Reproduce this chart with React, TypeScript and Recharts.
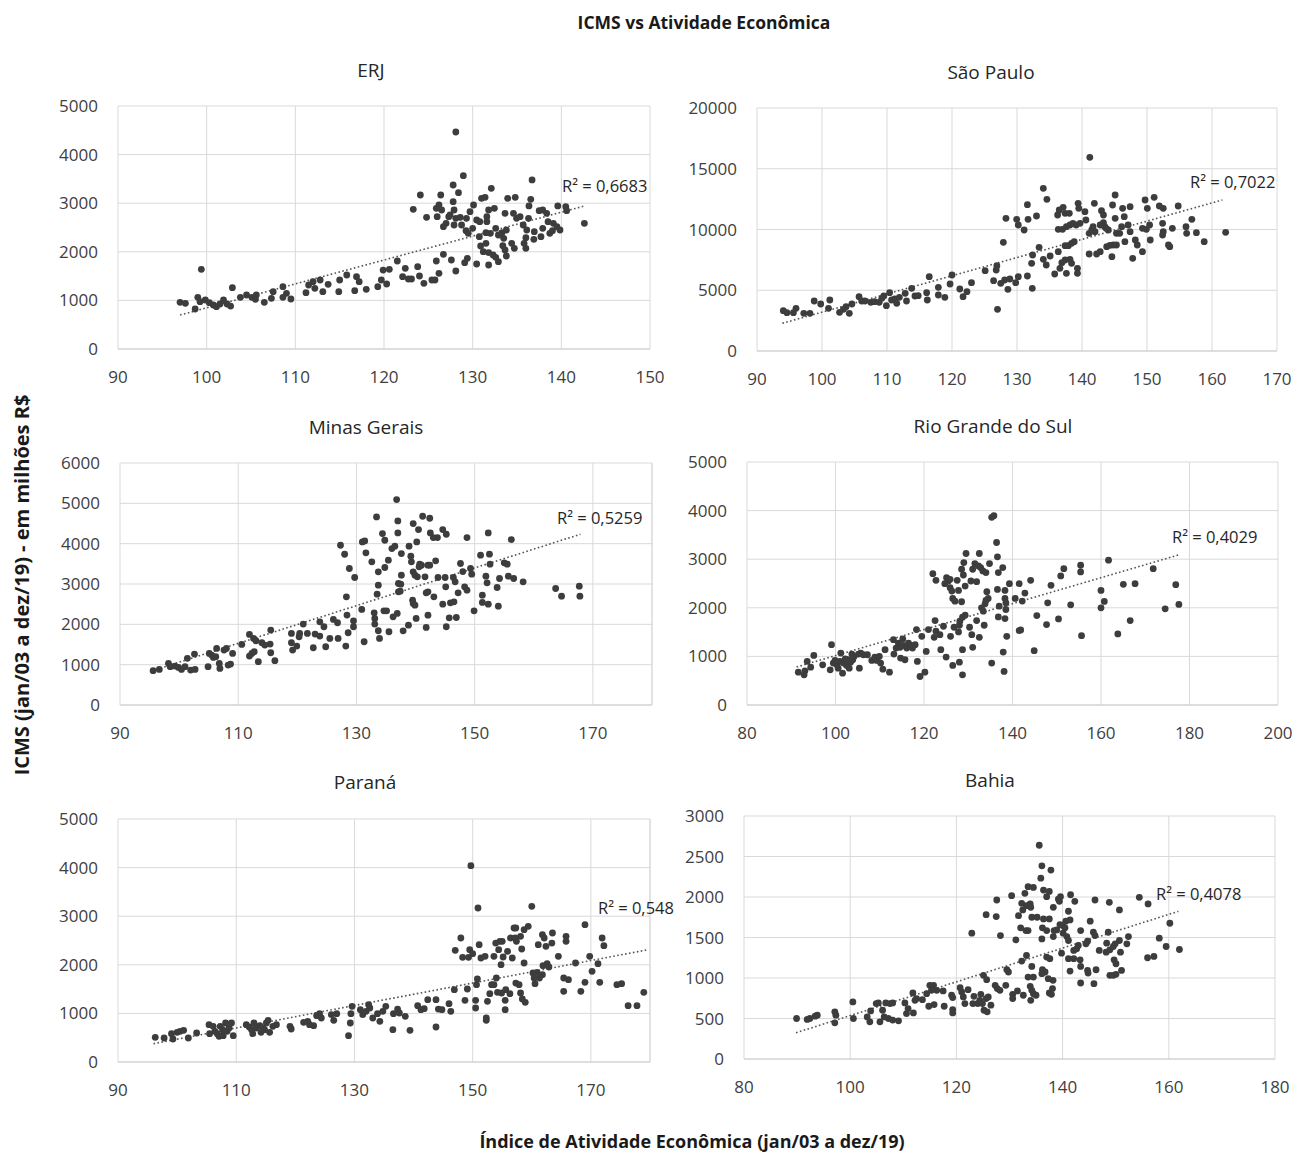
import React from 'react';
import { ScatterChart, Scatter, XAxis, YAxis, CartesianGrid, ReferenceLine } from 'recharts';

type Pt = [number, number];

// ---------------- DATA ----------------
const erjPoints: Pt[] = [
  [97.0,960],[97.6,940],[98.7,823],[99.4,1639],[99.0,1063],[99.25,974],[99.85,1008],[100.3,953],[100.75,905],[101.1,871],
  [101.5,926],[101.9,1008],[102.3,926],[102.7,884],[102.9,1262],[103.8,1063],[104.5,1111],[105.1,1063],[105.5,1022],[105.6,1111],
  [106.5,960],[107.3,1042],[107.5,1180],[108.6,1283],[108.6,1063],[109.0,1145],[109.5,1029],[111.2,1159],[111.5,1317],[112.0,1385],
  [112.2,1248],[112.8,1420],[113.1,1180],[113.7,1331],[114.9,1180],[115.0,1420],[115.8,1523],[116.9,1488],[117.2,1385],[116.7,1200],
  [118.0,1228],[119.3,1283],[119.7,1420],[119.9,1625],[120.3,1337],[120.6,1639],[121.5,1811],
  [122.4,1660],[122.1,1488],[122.75,1440],[123.1,1440],[123.8,1694],[124.0,1502],[124.5,1351],[125.4,1420],[125.75,1420],
  [126.2,1557],[125.9,1811],[126.7,1948],[127.6,1831],[128.1,1605],[129.1,1776],[129.4,1865],[130.45,1749],[131.8,1728],
  [128.1,4465],[128.95,3567],[127.8,3375],[128.4,3217],[124.1,3169],[126.4,3169],[127.8,3032],[123.3,2874],[124.8,2709],[125.9,2894],
  [126.2,2963],[126.5,2860],[126.0,2723],[127.3,2723],[127.45,2757],[127.9,2860],[128.1,2689],[128.6,2709],[126.7,2517],[127.0,2586],
  [127.9,2551],[128.75,2551],[129.3,2689],[129.7,2826],[130.1,2963],[130.45,2654],[130.8,2620],[131.0,3100],[131.4,3121],[132.1,3306],
  [129.25,2435],[129.5,2380],[130.0,2483],[130.75,2311],[131.6,2620],[131.8,2860],[131.6,2723],[132.45,2894],[131.5,2394],[132.0,2380],
  [132.6,2483],[132.9,2346],[133.3,2394],[130.9,2119],[131.5,2174],[131.2,2003],[131.8,1982],[132.3,1934],[132.6,1886],[132.9,1797],
  [133.4,2126],[133.65,2037],[133.8,1914],[133.5,2277],[133.8,2449],[133.65,2792],[133.95,3100],[134.8,3121],[134.4,2174],[134.7,2071],
  [134.6,2792],[134.95,2689],[135.35,2723],[135.7,2551],[135.8,2174],[136.0,2071],[136.0,2291],[136.1,2449],[136.3,2689],[136.35,2943],
  [136.55,3080],[136.7,3478],[136.95,2414],[136.9,2256],[137.5,2847],[137.9,2860],[137.9,2483],[137.7,2311],[138.35,2792],[138.5,2620],
  [138.7,2380],[139.0,2435],[139.1,2586],[139.6,2943],[139.5,2517],[139.85,2449],[140.5,2929],[140.6,2847],[142.6,2586]
];
const erjTrend: Pt[] = [[97.0,700],[142.6,2942]];

const spPoints: Pt[] = [
  [94.05,3322],[94.6,3157],[95.6,3157],[96.0,3513],[97.2,3102],[98.15,3102],[98.8,4117],[99.8,3870],[101.0,3513],[101.2,4199],
  [102.7,3185],[103.3,3431],[103.7,3650],[104.2,3102],[104.6,3870],[105.7,4473],[106.1,4117],[106.6,4117],[107.5,4007],[108.1,4062],
  [108.8,4007],[109.2,4336],[109.5,4528],[109.9,3733],[110.4,4802],[110.7,4199],[111.2,4281],[111.5,3925],[111.9,4418],[112.8,4748],
  [113.0,4117],[113.8,5159],[114.3,4528],[114.8,4555],[116.1,4802],[116.2,4199],[116.5,6119],[117.9,5241],[117.9,4610],[118.9,4418],
  [119.7,5515],[120.0,6256],[121.2,5104],[121.7,4473],[122.3,4885],[123.0,5625],[125.1,6613],[126.4,5790],[126.8,6668],[126.9,7024],
  [127.0,3431],[127.9,8945],[128.3,10919],[127.5,5570],[128.1,5844],[128.6,5076],[128.9,5927],[129.8,5625],[129.95,10837],[130.2,10371],
  [131.1,9959],[131.6,12044],[131.7,10837],[130.2,6119],[131.6,6174],
  [132.4,7902],[132.25,7216],[132.35,5159],[133.0,11112],[133.4,8533],[134.05,13388],[134.6,12483],[134.05,7545],[134.5,7079],[135.1,7820],
  [135.8,6338],[136.35,8176],[136.6,6805],[136.9,7271],[137.4,7490],[137.6,6393],[138.15,7545],[138.4,7216],[139.3,6805],[139.3,6393],
  [136.25,11194],[136.5,11605],[137.1,11825],[137.4,11331],[138.05,11331],[136.35,10014],[137.0,10014],[137.6,10234],[138.15,10371],[138.6,10508],
  [139.1,10371],[139.7,10508],[137.4,8670],[137.9,8670],[138.4,8862],[138.8,9000],[139.4,12154],[139.5,11742],[140.45,11468],[140.6,10782],
  [141.2,15939],[141.9,12154],[141.1,9685],[141.5,9959],[141.7,10234],[141.1,7984],[142.25,7984],[142.8,8176],[143.0,11550],[143.3,11194],
  [142.0,9822],[142.8,10371],[143.3,10563],[143.5,10234],[144.05,9959],[143.8,8587],[144.3,8697],[144.8,8725],[145.3,8725],[144.6,7765],
  [143.7,10097],[144.7,12017],[145.1,12840],[145.1,10919],[145.3,9685],[145.8,9685],[146.1,10234],[146.25,11742],[146.5,11057],[147.4,11880],
  [147.1,10371],[147.4,9822],[146.6,9000],[147.8,7627],[148.2,9137],[148.5,8725],[149.3,8176],[149.3,10097],[149.9,10014],[150.4,10371],
  [149.7,12428],[150.05,11742],[150.5,9137],[151.1,12648],[151.9,11934],[152.5,11742],[152.4,10508],[152.5,9822],[152.4,9548],[153.3,8725],
  [153.5,8587],[153.9,10097],[154.8,11934],[156.0,10234],[156.1,9685],[156.9,10837],[157.6,9740],[158.8,9000],[162.1,9767]
];
const spTrend: Pt[] = [[93.9,2279],[161.6,12428]];

const mgPoints: Pt[] = [
  [95.6,850],[96.65,883],[98.2,1032],[98.5,949],[99.3,966],[99.9,932],[100.4,883],[101.0,949],[101.4,1156],[101.95,867],
  [102.7,883],[102.6,1263],[104.9,949],[105.1,1279],[105.5,1238],[105.8,1180],[106.2,1197],[106.35,1403],[106.8,1032],[106.9,908],
  [107.6,1362],[108.0,1403],[108.3,990],[108.7,1015],[109.05,1279],[110.6,1502],[111.9,1750],[111.9,1213],[112.3,1279],[112.7,1321],
  [112.6,1651],[113.0,1593],[113.4,1073],[114.0,1543],[114.5,1485],[115.4,1510],[115.5,1296],[115.5,1857],[116.2,1098],[119.0,1775],
  [119.0,1543],[119.2,1362],[119.9,1461],[120.3,1692],[120.4,1775],[121.0,2006],[121.7,1775],[122.7,1420],[123.0,1758],[123.8,1709],
  [123.8,2063],[124.5,1940],[124.8,1444],[125.5,1651],[126.1,2121],[126.8,2039],[126.9,1651],[127.3,3961],[128.0,3738],[128.3,2682],
  [128.4,2229],[128.2,1461],[128.6,1791],[128.8,3384],[129.5,1940],[129.7,3161],[129.5,2088],[131.0,4044],[131.4,4069],[131.6,3772],
  [130.9,2369],[131.3,1568],[132.6,3549],[133.0,2286],[133.1,2146],[133.1,2006],[133.4,4663],[133.7,3301],[133.7,2971],[133.5,2748],
  [133.7,1841],[133.9,1651],[134.4,4250],[134.8,4085],[134.8,3409],[134.65,2335],[135.1,2335],[135.4,3590],[135.5,1816],[136.0,3879],
  [136.2,2187],[136.5,3937],[136.8,5092],[137.0,4564],[137.0,4267],[137.1,3012],[137.1,2806],[136.9,2270],
  [137.6,3755],[137.6,3219],[137.5,2996],[137.4,2822],[137.9,1840],[138.8,1980],[138.9,3937],[139.2,3689],[139.3,3549],[139.6,4498],
  [140.2,4044],[140.5,4350],[139.5,2600],[139.6,2517],[139.9,2476],[140.1,2146],[139.6,3301],[139.9,3219],[140.3,3178],[140.7,3491],
  [141.0,3466],[141.2,4680],[140.6,3425],[141.6,3178],[141.8,2781],[142.1,2806],[142.1,2228],[141.8,1923],[142.1,3466],[142.4,3466],
  [142.4,4630],[142.5,4267],[143.0,4152],[143.1,2682],[143.4,3574],[143.8,3161],[143.7,4152],[144.6,4350],[145.2,4234],[145.0,3161],
  [145.1,2929],[144.6,2500],[145.2,1940],[145.7,2162],[145.9,2534],[146.5,2558],[146.4,3161],[146.7,3054],[146.9,2170],[147.2,2781],
  [147.6,3508],[148.0,3309],[148.3,2929],[148.7,2847],[148.7,4152],[149.3,3384],[149.5,3243],[149.9,2336],[151.0,3714],[151.3,2723],
  [151.3,2542],[151.9,3194],[152.1,3029],[152.3,2500],[152.5,3739],[152.6,3491],[152.3,4267],[154.0,2451],[153.8,2913],[154.2,3136],
  [155.0,3524],[155.5,3491],[155.7,3194],[156.2,4102],[156.6,3136],[158.2,3054],[163.7,2888],[164.7,2699],[167.7,2946],[167.8,2699]
];
const mgTrend: Pt[] = [[96.2,883],[167.9,4234]];

const rsPoints: Pt[] = [
  [91.6,676],[92.9,620],[93.1,703],[93.6,896],[94.4,779],[95.1,1020],[97.1,827],[98.8,724],[99.1,1241],[99.5,862],
  [99.9,917],[100.3,827],[100.6,758],[101.0,896],[101.2,1069],[101.6,655],[101.8,862],[102.2,951],[102.5,814],[102.9,931],
  [103.1,758],[103.4,882],[103.9,931],[104.2,1000],[103.7,1048],[105.4,758],[105.2,1048],[105.7,1069],[106.3,1034],[107.2,1034],
  [108.2,917],[108.9,986],[109.3,917],[109.9,1000],[110.2,862],[110.7,738],[111.2,1138],[112.2,676],[113.1,1344],[113.2,1048],
  [113.7,1172],[114.2,1275],[114.6,1186],[114.7,965],[115.2,1358],[115.3,1227],[115.7,931],[116.1,1172],[116.5,1275],[117.0,1227],
  [117.4,1172],[118.0,1241],[118.3,1551],[118.5,896],[119.1,586],[119.5,1413],[120.2,676],[120.5,1103],[121.0,1551],[122.0,2703],
  [122.3,1393],[122.5,1737],[122.7,2565],[122.7,1517],[123.6,1448],[123.8,1138],[124.4,1620],[124.7,2496],[125.0,986],[125.1,2620],
  [125.5,2551],[125.9,2586],[125.9,2413],[126.0,1413],[126.3,2344],[126.5,2193],[126.5,814],[126.8,1600],[127.0,2137],[127.5,2565],
  [127.8,1503],[128.0,1641],[127.8,2358],[128.0,882],[128.1,1724],[128.5,2793],[128.5,2124],[128.7,1806],[128.9,2675],[129.0,2931],
  [129.3,2448],[129.3,1848],[129.5,3117],[128.7,1138],[128.7,620],[130.3,1600],[130.6,2551],[130.8,1448],[131.0,1186],[131.0,2793],
  [131.5,2910],[131.9,2537],[131.9,1737],[132.5,3117],[132.3,2862],[132.5,1393],[132.8,2827],[133.0,2000],[133.3,2758],[133.4,1931],
  [133.6,1641],[133.8,2082],[134.0,2151],[134.0,2724],[134.2,2331],[134.5,2193],[134.8,2910],[135.3,862],[135.3,3862],[135.8,3896],
  [136.4,3344],[136.6,2379],[136.6,3048],[136.8,2724],[136.8,1813],[137.0,2034],[137.8,2827],[137.9,1089],[138.1,690],[138.3,2358],
  [138.3,2193],[138.3,1779],[138.5,2103],[138.5,1965],[138.7,1413],[139.3,2496],[140.6,2193],[141.5,2496],[141.5,1531],
  [141.85,1545],[142.2,2138],[142.8,2303],[144.1,2565],[144.9,1117],[145.5,1841],[147.7,1655],[147.95,2103],[148.7,2462],[150.4,1772],
  [150.9,2655],[151.6,2806],[153.15,2062],[155.4,2876],[155.4,2738],[155.6,1427],[160.0,2358],[160.0,2000],[160.75,2131],[161.7,2979],
  [163.8,1462],[165.05,2483],[166.6,1738],[167.7,2496],[171.8,2806],[174.5,1979],[176.9,2476],[177.6,2069]
];
const rsTrend: Pt[] = [[91.2,782],[177.5,3087]];

const prPoints: Pt[] = [
  [96.3,508],[97.8,494],[99.05,583],[99.3,473],[100.0,610],[100.5,631],[101.1,651],[101.9,494],[103.3,597],[105.4,768],
  [105.5,583],[106.1,734],[106.4,631],[106.8,583],[107.1,528],[107.3,734],[107.7,665],[107.8,542],[108.2,802],[108.45,631],
  [108.8,700],[109.2,802],[109.5,542],[111.7,768],[112.2,720],[112.6,665],[113.0,802],[112.8,583],[113.4,700],[114.0,748],
  [114.2,610],[114.5,700],[114.8,665],[115.1,802],[115.4,857],[115.65,610],[116.2,734],[116.8,768],[119.1,734],[119.3,679],
  [121.4,816],[122.1,837],[122.4,768],[123.1,748],[123.6,953],[124.1,994],[124.4,905],[126.1,974],[126.5,857],[127.0,994],
  [129.0,542],[129.3,802],[129.4,994],[129.6,1145],[131.0,1077],[131.4,974],[131.97,1042],[132.4,1180],[132.6,1111],[133.1,905],
  [133.9,994],[134.3,837],[134.8,1042],[135.3,1145],[136.5,665],[136.6,994],[137.3,1090],
  [137.6,1008],[138.6,939],[139.4,651],[140.7,1159],[141.25,1077],[141.8,1097],[142.4,1282],[143.8,720],[143.8,1282],[144.2,1090],
  [144.8,1077],[146.0,1200],[146.3,1042],[146.9,1488],[147.05,2298],[148.0,2551],[148.3,2153],[148.7,1269],[149.1,1502],[149.3,2153],
  [149.5,2311],[149.7,4040],[150.0,2229],[150.5,1269],[150.5,1111],[150.65,1591],[150.8,1708],[150.9,3169],[151.1,2414],[151.4,2140],
  [152.1,2174],[152.3,905],[152.3,857],[152.5,1248],[152.9,1406],[153.2,1591],[153.6,1591],[153.6,2174],[153.9,2448],[154.0,1728],
  [154.2,1433],[154.4,2311],[154.6,2483],[154.8,2003],[155.0,2483],[154.9,1420],[155.15,2160],[155.5,1077],[155.5,1269],[155.6,1488],
  [155.9,2277],[156.3,1406],[156.4,2551],[156.7,2140],[157.0,2757],[157.3,2757],[157.3,1625],[157.2,2551],[157.4,2483],[157.85,1591],
  [158.1,2586],[158.1,1420],[158.3,2325],[158.4,1296],[158.7,2037],[158.9,1228],[158.7,2723],[159.4,2791],[160.0,3203],[160.2,1831],
  [160.4,1728],[160.55,1612],[160.9,1845],[161.1,2414],[161.3,1728],[161.8,1797],[161.8,2620],[161.9,1982],[162.1,2551],[162.4,2380],
  [162.6,2023],[162.9,1955],[163.4,2448],[163.5,2654],[164.5,2174],[165.4,1454],[165.4,1728],[165.8,2483],[165.8,2586],[166.2,1694],
  [167.4,2037],[168.3,1454],[169.0,2826],[169.0,1639],[169.8,2174],[170.2,1865],[171.2,2023],[171.5,1639],[171.9,2551],[172.2,2394],
  [174.4,1591],[175.2,1612],[176.3,1159],[177.8,1159],[178.95,1433]
];
const prTrend: Pt[] = [[96.0,377],[179.7,2311]];

const baPoints: Pt[] = [
  [89.9,500],[91.9,488],[92.4,500],[93.4,529],[93.8,541],[97.1,582],[97.3,541],[97.1,447],[100.5,705],[100.6,500],
  [103.2,520],[103.7,459],[103.85,594],[104.9,684],[105.3,692],[105.6,459],[106.1,602],[106.4,520],[106.7,692],[107.2,500],
  [107.5,684],[108.0,692],[108.0,480],[109.1,471],[110.3,692],[110.6,561],[110.9,623],[111.8,815],[111.9,569],[112.2,725],
  [112.5,746],[113.6,733],[114.4,807],[114.8,651],[115.0,910],[115.3,848],[115.7,910],[115.8,672],[116.3,848],[117.5,840],
  [117.7,651],[119.1,787],[119.3,758],[119.3,610],[119.3,569],[120.7,881],[121.0,828],[121.3,766],[121.6,684],[122.2,856],
  [122.9,1553],[123.1,684],[123.3,774],[124.0,684],[124.4,725],[124.6,799],[124.9,684],[125.1,1033],[125.2,602],[125.6,746],
  [125.7,979],[125.8,582],[126.0,766],[126.5,664],[125.6,1782],[127.3,910],[127.6,1963],[127.5,1758],[127.7,869],[128.2,848],
  [128.3,1524],[129.3,910],[129.5,1102],[129.8,1074],[130.4,2016],[130.6,799],[130.6,746],[131.2,1471],[131.7,1770],[131.5,840],
  [132.3,1922],[132.5,1840],[132.9,2045],[133.2,1893],[133.5,2127],[133.9,1914],[134.2,1750],[134.0,1873],[134.5,2118],[133.1,1586],
  [133.5,1586],[132.1,1619],[132.3,1209],[133.2,1278],[134.2,1143],[133.5,1012],[134.5,1012],[133.9,897],[134.2,848],[134.5,807],
  [135.0,787],[134.0,725],[132.6,787],[135.6,2639],[136.1,2385],[135.9,2233],[136.4,2086],[137.8,2332],[137.0,2004],[137.5,2069],
  [135.2,1750],[136.4,1729],[137.5,1729],[136.2,1619],[137.0,1586],[136.1,1483],[137.0,1258],[137.6,1238],[136.2,1102],[136.7,1074],
  [136.1,1053],[137.3,992],[138.2,971],[137.5,815],[138.1,869],[137.9,799],[138.25,1873],[138.4,1586],[138.25,1512],[138.9,1594],
  [139.2,1975],[139.4,1946],[139.6,2004],[139.5,1660],[140.0,1647],[140.45,1619],[140.6,1701],[140.1,1553],[140.8,1512],[141.1,1463],
  [141.1,1824],[141.4,1717],[141.5,2028],[142.3,1946],[139.8,1307],[141.1,1238],[141.4,1086],[142.1,1238],[142.1,1340],[142.65,1360],
  [142.96,1401],[143.3,1225],[143.4,1143],[143.4,938],[143.4,1586],[144.4,1422],[144.7,1455],[144.7,1094],[144.8,1061],[145.2,1701],
  [145.8,1565],[145.9,930],[146.1,1524],[146.1,1963],[146.3,1102],[146.9,1340],[148.2,1319],[148.3,1430],[148.6,1565],[148.8,1934],
  [148.9,1348],[148.9,1033],[149.55,1389],[149.7,1225],[150.05,1176],[150.05,1045],[149.55,1033],[149.9,1422],[150.7,1840],[150.7,1463],
  [151.1,1094],[150.9,1319],[152.4,1512],[152.1,1422],[154.45,1996],[156.0,1250],[156.1,1914],[157.2,1266],[158.2,1492],[159.5,1389],
  [160.2,1676],[162.0,1352]
];
const baTrend: Pt[] = [[89.8,324],[161.8,1823]];

const xTicks10_90_150 = [90, 100, 110, 120, 130, 140, 150];
const xTicks10_90_170 = [90, 100, 110, 120, 130, 140, 150, 160, 170];
const xTicks20_90_170 = [90, 110, 130, 150, 170];
const xTicks20_80_200 = [80, 100, 120, 140, 160, 180, 200];
const xTicks20_80_180 = [80, 100, 120, 140, 160, 180];
const yTicks0_5000 = [0, 1000, 2000, 3000, 4000, 5000];
const yTicks0_20000 = [0, 5000, 10000, 15000, 20000];
const yTicks0_6000 = [0, 1000, 2000, 3000, 4000, 5000, 6000];
const yTicks0_3000 = [0, 500, 1000, 1500, 2000, 2500, 3000];

const titles = ['ERJ', 'São Paulo', 'Minas Gerais', 'Rio Grande do Sul', 'Paraná', 'Bahia'];
const r2Labels = ['R² = 0,6683', 'R² = 0,7022', 'R² = 0,5259', 'R² = 0,4029', 'R² = 0,548', 'R² = 0,4078'];

// ---------------- LAYOUT ----------------
const FONT = "'Open Sans', 'Noto Sans', sans-serif";
const GRID = '#d9d9d9';
const TEXT = '#404040';
const DOT = '#3d3d3d';
const TICK_FS = 17;

type PanelCfg = {
  title: string;
  r2: string;
  points: Pt[];
  trend: Pt[];
  xDomain: [number, number];
  xTicks: number[];
  yDomain: [number, number];
  yTicks: number[];
  box: { l: number; t: number; r: number; b: number };
  titleX: number;
  titleY: number;
  r2X: number;
  r2Y: number;
};

const panels: PanelCfg[] = [
  { title: titles[0], r2: r2Labels[0], points: erjPoints, trend: erjTrend, xDomain: [90, 150], xTicks: xTicks10_90_150, yDomain: [0, 5000], yTicks: yTicks0_5000,
    box: { l: 118, t: 106, r: 650, b: 349 }, titleX: 371, titleY: 70, r2X: 562, r2Y: 185 },
  { title: titles[1], r2: r2Labels[1], points: spPoints, trend: spTrend, xDomain: [90, 170], xTicks: xTicks10_90_170, yDomain: [0, 20000], yTicks: yTicks0_20000,
    box: { l: 757, t: 108, r: 1277, b: 351 }, titleX: 991, titleY: 72, r2X: 1190, r2Y: 181 },
  { title: titles[2], r2: r2Labels[2], points: mgPoints, trend: mgTrend, xDomain: [90, 180], xTicks: xTicks20_90_170, yDomain: [0, 6000], yTicks: yTicks0_6000,
    box: { l: 120, t: 463, r: 652, b: 705 }, titleX: 366, titleY: 427, r2X: 557, r2Y: 517 },
  { title: titles[3], r2: r2Labels[3], points: rsPoints, trend: rsTrend, xDomain: [80, 200], xTicks: xTicks20_80_200, yDomain: [0, 5000], yTicks: yTicks0_5000,
    box: { l: 747, t: 462, r: 1278, b: 705 }, titleX: 993, titleY: 426, r2X: 1172, r2Y: 536 },
  { title: titles[4], r2: r2Labels[4], points: prPoints, trend: prTrend, xDomain: [90, 180], xTicks: xTicks20_90_170, yDomain: [0, 5000], yTicks: yTicks0_5000,
    box: { l: 118, t: 819, r: 650, b: 1062 }, titleX: 365, titleY: 782, r2X: 598, r2Y: 907 },
  { title: titles[5], r2: r2Labels[5], points: baPoints, trend: baTrend, xDomain: [80, 180], xTicks: xTicks20_80_180, yDomain: [0, 3000], yTicks: yTicks0_3000,
    box: { l: 744, t: 816, r: 1275, b: 1059 }, titleX: 990, titleY: 780, r2X: 1156, r2Y: 893 },
];

const Dot = (props: any) => <circle cx={props.cx} cy={props.cy} r={3.4} fill={DOT} />;

const PAD_L = 80;
const PAD_T = 20;
const PAD_R = 30;
const PAD_B = 44;

function Panel({ cfg }: { cfg: PanelCfg }) {
  const { box } = cfg;
  const w = box.r - box.l + PAD_L + PAD_R;
  const h = box.b - box.t + PAD_T + PAD_B;
  const data = cfg.points.map(([x, y]) => ({ x, y }));
  const [a, b] = cfg.trend;
  const needRightBorder = cfg.xTicks[cfg.xTicks.length - 1] !== cfg.xDomain[1];
  return (
    <>
      <div style={{ position: 'absolute', left: cfg.titleX, top: cfg.titleY, transform: 'translate(-50%, -50%)', fontSize: 19, color: '#262626', whiteSpace: 'nowrap', fontFamily: FONT }}>
        {cfg.title}
      </div>
      <div style={{ position: 'absolute', left: box.l - PAD_L, top: box.t - PAD_T }}>
        <ScatterChart width={w} height={h} margin={{ top: PAD_T, right: PAD_R, bottom: 0, left: 0 }}>
          <CartesianGrid stroke={GRID} strokeWidth={1} />
          <XAxis type="number" dataKey="x" domain={cfg.xDomain} ticks={cfg.xTicks} interval={0} height={PAD_B}
            tickLine={false} tickSize={0} tickMargin={22} axisLine={{ stroke: '#cfcfcf' }}
            tick={{ fill: TEXT, fontSize: TICK_FS, fontFamily: FONT }} allowDataOverflow />
          <YAxis type="number" dataKey="y" domain={cfg.yDomain} ticks={cfg.yTicks} interval={0} width={PAD_L}
            tickLine={false} tickSize={0} tickMargin={20} axisLine={false}
            tick={{ fill: TEXT, fontSize: TICK_FS, fontFamily: FONT }} allowDataOverflow />
          {needRightBorder && <ReferenceLine x={cfg.xDomain[1]} stroke={GRID} strokeWidth={1} />}
          <Scatter data={data} shape={Dot} isAnimationActive={false} />
          <ReferenceLine segment={[{ x: a[0], y: a[1] }, { x: b[0], y: b[1] }]} stroke="#555555" strokeWidth={1.6}
            strokeDasharray="1.6 2.4" ifOverflow="visible" />
        </ScatterChart>
      </div>
      <div style={{ position: 'absolute', left: cfg.r2X, top: cfg.r2Y, transform: 'translateY(-50%)', fontSize: 16.5, color: '#262626', whiteSpace: 'nowrap', fontFamily: FONT }}>
        {cfg.r2}
      </div>
    </>
  );
}

export default function App() {
  return (
    <div style={{ position: 'absolute', left: 0, top: 0, width: 1296, height: 1156, background: '#ffffff', fontFamily: FONT, overflow: 'hidden' }}>
      <div style={{ position: 'absolute', left: 704, top: 22, transform: 'translate(-50%, -50%)', fontSize: 17.5, fontWeight: 700, color: '#1a1a1a', whiteSpace: 'nowrap' }}>
        ICMS vs Atividade Econômica
      </div>
      {panels.map((p) => (
        <Panel key={p.title} cfg={p} />
      ))}
      <div style={{ position: 'absolute', left: 21, top: 585, transform: 'translate(-50%, -50%) rotate(-90deg)', fontSize: 20, fontWeight: 700, color: '#1a1a1a', whiteSpace: 'nowrap' }}>
        ICMS (jan/03 a dez/19) - em milhões R$
      </div>
      <div style={{ position: 'absolute', left: 692, top: 1141, transform: 'translate(-50%, -50%)', fontSize: 18, fontWeight: 700, color: '#1a1a1a', whiteSpace: 'nowrap' }}>
        Índice de Atividade Econômica (jan/03 a dez/19)
      </div>
    </div>
  );
}
